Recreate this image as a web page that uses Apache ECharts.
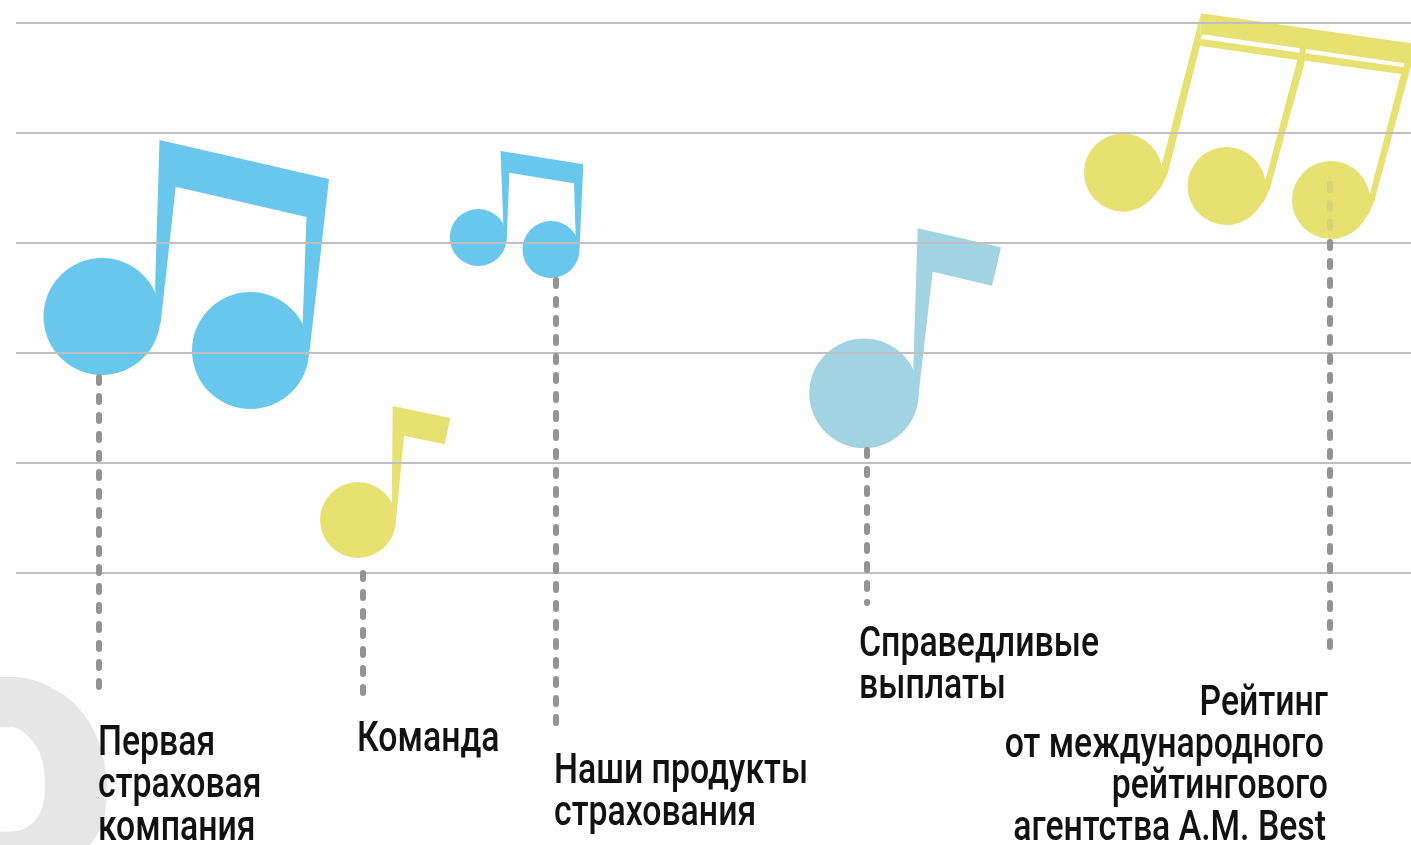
<!DOCTYPE html>
<html>
<head>
<meta charset="utf-8">
<style>
  html, body { margin: 0; padding: 0; background: #fefefe; }
  #main { width: 1411px; height: 845px; }
</style>
<script src="https://cdn.jsdelivr.net/npm/echarts@6/dist/echarts.min.js"></script>
</head>
<body>
<div id="main"></div>
<script>
// 五线谱的横线
const staffLevels = [23, 133, 243, 353, 463, 573]
const staffStart = 16
const staffEnd = 1411

// 音符的符头 [x, y, 直径]
const blueHeads = [[102, 316.5, 117], [250.5, 350.5, 117], [478.3, 237.5, 57], [551, 249.5, 57]]
const yellowHeads = [[358, 520, 76], [1123, 172.5, 78], [1226.5, 186, 78], [1331, 200, 78]]
const paleHeads = [[864, 393.3, 109.5]]

// 符干和符尾
const blueStems = [
  [[159.5, 140], [329, 179], [309.5, 352], [302.7, 323], [306.5, 217], [175.7, 186.7], [160.5, 325], [155, 289]],
  [[500.5, 151], [583.3, 164.3], [579.5, 250], [575.7, 235], [574, 183.3], [509.3, 172.7], [506.7, 240], [503.3, 223.3]]
]
const paleStems = [
  [[917.7, 228.3], [1001, 247.3], [992, 285.7], [932.7, 271.7], [918.3, 396.7], [913.3, 367.7]]
]
const yellowStems = [
  [[392.7, 406], [450.3, 418], [444.7, 444.3], [404, 435.7], [395.7, 523], [391.7, 502.3]],
  [[1201, 13.3], [1411, 43.3], [1411, 66], [1401, 74], [1305, 60.7], [1297.3, 60], [1200, 45.7]],
  [[1201, 13.3], [1200, 45.7], [1170.7, 161.7], [1167.7, 173.5], [1161.7, 186.5], [1151.5, 198.8], [1140, 206.7], [1130, 211], [1123, 211.7], [1123, 190], [1161.7, 165]],
  [[1300, 50], [1306, 50], [1305, 60.7], [1273.5, 175.2], [1270.5, 187], [1264.7, 200], [1254.5, 212.3], [1243, 220.2], [1233.5, 224.5], [1226.5, 225.2], [1227, 203], [1265.7, 179]],
  [[1403, 67], [1411, 66], [1377.5, 189.2], [1374.5, 201], [1368.7, 214], [1358.5, 226.3], [1348, 234.2], [1338, 238.5], [1331, 239.2], [1331, 217], [1370, 193.3], [1401, 74]]
]
// 符尾之间的白色缝隙
const beamSlits = [
  [[1202.3, 34.3], [1300, 48.3], [1299.5, 52.7], [1201, 39]],
  [[1306, 49], [1404.3, 63.3], [1403.5, 67.3], [1305.5, 53.3]]
]

// 左下角的灰色背景字形
const backdropShape = [
  [0, 677], [9, 677], [17, 677], [25, 678], [33, 680], [42, 683], [50, 687], [59, 692], [67, 697], [74, 703], [80, 710],
  [85, 716], [90, 723], [94, 731], [98, 740], [101, 748], [103, 757], [105, 767], [107, 777], [107.5, 787], [107, 797],
  [106, 805], [105, 813], [103, 821], [100, 830], [95, 838], [90, 845], [0, 845],
  [0, 831.7], [10, 831.7], [17, 831], [23, 829.3], [28, 826.5], [33, 822.7], [37, 818], [40, 813.3], [42.5, 807], [44, 800],
  [44.8, 792], [45, 783.3], [44.8, 776], [44, 770], [42.5, 761], [40, 753.3], [37, 747], [33, 741.7], [28, 736], [23, 731.7],
  [18, 728.5], [13, 727.3], [0, 727.3]
]

// 虚线
const leaderX = [99, 363, 556, 867, 1330]
const leaderTop = [377, 573, 280, 450, 242]
const leaderBottom = [689, 694, 725, 603, 649]
const faintLeader = [[1330, 184], [1330, 232]]

// 文字
const captionText = ['Первая', 'страховая', 'компания', 'Команда', 'Наши продукты', 'страхования', 'Справедливые', 'выплаты',
  'Рейтинг', 'от международного', 'рейтингового', 'агентства A.M. Best']
const captionX = [98, 98, 98, 357, 554, 554, 859, 859, 1328, 1324, 1328, 1326]
const captionY = [755, 797, 840, 751, 783, 825, 656, 698, 715, 757, 798, 840]
const captionAlign = ['left', 'left', 'left', 'left', 'left', 'left', 'left', 'left', 'right', 'right', 'right', 'right']

const myChart = echarts.init(document.getElementById('main'))

// 把一组多边形画成自定义系列
const polygonSeries = (polys, color) => ({
  type: 'custom',
  silent: true,
  clip: false,
  data: polys.map((p, i) => [i]),
  renderItem(params, api) {
    return {
      type: 'polygon',
      shape: { points: polys[params.dataIndex].map(p => api.coord(p)) },
      style: { fill: color }
    }
  }
})

const headSeries = (heads, color) => ({
  type: 'scatter',
  silent: true,
  data: heads,
  symbol: 'circle',
  symbolSize: val => val[2],
  itemStyle: { color: color, opacity: 1 }
})

const dashSeries = (points, color) => ({
  type: 'line',
  silent: true,
  showSymbol: false,
  data: points,
  lineStyle: { color: color, width: 6, type: [6, 13], cap: 'round' }
})

const option = {
  backgroundColor: '#fefefe',
  animation: false,
  grid: { left: 0, right: 0, top: 0, bottom: 0 },
  xAxis: { type: 'value', min: 0, max: 1411, show: false },
  yAxis: { type: 'value', min: 0, max: 845, inverse: true, show: false },
  series: [
    polygonSeries([backdropShape], '#e6e6e6'),
    ...staffLevels.map(y => ({
      type: 'line',
      silent: true,
      showSymbol: false,
      data: [[staffStart, y], [staffEnd, y]],
      lineStyle: { color: '#bfbfbf', width: 2 }
    })),
    ...leaderX.map((x, i) => dashSeries([[x, leaderTop[i]], [x, leaderBottom[i]]], '#939393')),
    polygonSeries(blueStems, '#69c7ee'),
    headSeries(blueHeads, '#69c7ee'),
    polygonSeries(paleStems, '#a2d3e3'),
    headSeries(paleHeads, '#a2d3e3'),
    polygonSeries(yellowStems, '#e7e171'),
    headSeries(yellowHeads, '#e7e171'),
    dashSeries(faintLeader, 'rgba(147,147,147,0.18)'),
    polygonSeries(beamSlits, '#fefefe'),
    {
      type: 'custom',
      silent: true,
      clip: false,
      data: captionText.map((t, i) => [i]),
      renderItem(params, api) {
        const i = params.dataIndex
        const pos = api.coord([captionX[i], captionY[i]])
        return {
          type: 'text',
          x: pos[0],
          y: pos[1] + 10,
          scaleX: 0.805,
          style: {
            text: captionText[i],
            x: 0,
            y: 0,
            textAlign: captionAlign[i],
            textVerticalAlign: 'bottom',
            font: '500 42px Roboto',
            fill: '#111111'
          }
        }
      }
    }
  ]
}

option && myChart.setOption(option)
</script>
</body>
</html>
